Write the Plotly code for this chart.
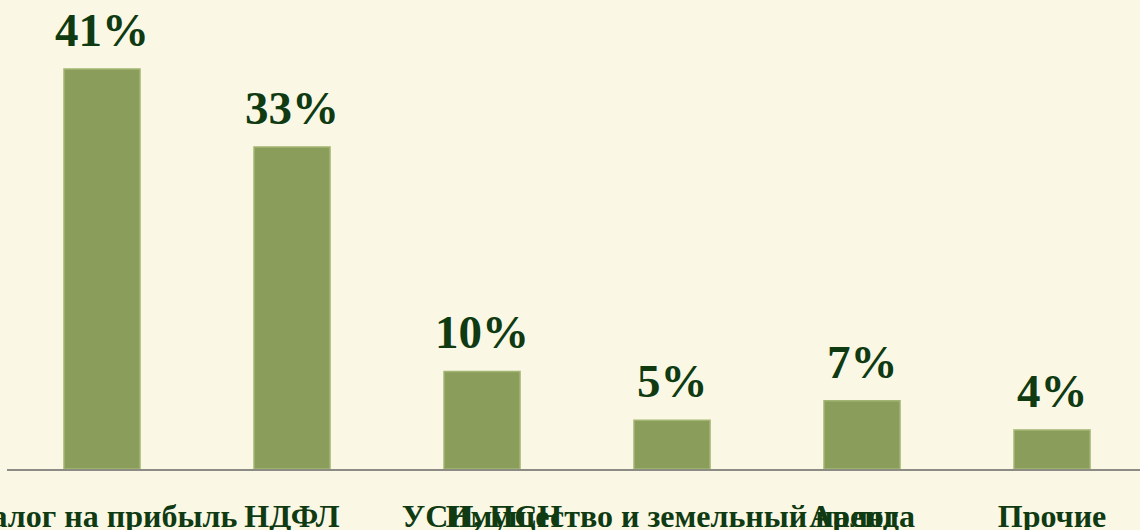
import plotly.graph_objects as go

categories = ["Налог на прибыль", "НДФЛ", "УСН, ПСН", "Имущество и земельный налог", "Аренда", "Прочие"]
values = [41, 33, 10, 5, 7, 4]
value_labels = ["41%", "33%", "10%", "5%", "7%", "4%"]

BG = "#FAF8E4"
BAR = "#8A9D5B"
TXT = "#0F3A12"

fig = go.Figure()
fig.add_trace(go.Bar(
    x=categories, y=values,
    marker=dict(color=BAR, line=dict(color="#A3B572", width=1.5)),
    width=0.4,
    hoverinfo="skip",
))

for c, v, t in zip(categories, values, value_labels):
    fig.add_annotation(
        x=c, y=v, text=t, showarrow=False, yanchor="bottom", yshift=11,
        font=dict(family="Liberation Serif", size=47, color=TXT, weight="bold"),
    )

fig.update_layout(
    width=1140, height=530,
    margin=dict(l=7, r=0, t=0, b=61),
    paper_bgcolor=BG, plot_bgcolor=BG,
    showlegend=False,
    xaxis=dict(
        type="category", range=[-0.5, 5.463], tickangle=0, automargin=False,
        showline=True, linecolor="#8C8C84", linewidth=2, showgrid=False,
        ticks="", ticklabelstandoff=18,
        tickfont=dict(family="Liberation Serif", size=32, color=TXT, weight="bold"),
    ),
    yaxis=dict(range=[0, 48.07], visible=False, showgrid=False, zeroline=False),
)

fig.write_html(
    "out.html",
    config={"displayModeBar": False},
    post_script="document.body.style.margin='0';document.body.style.background='" + BG + "';",
)
